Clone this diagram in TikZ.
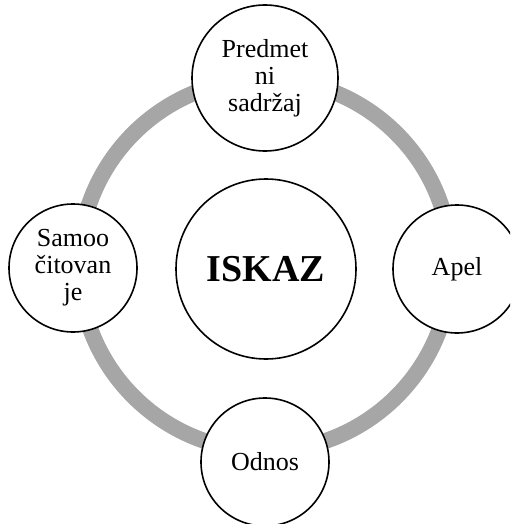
\documentclass[tikz,border=0pt]{standalone}
\usepackage{fontspec}
\setmainfont{Liberation Serif}
\definecolor{ringgray}{HTML}{A6A6A6}
\tikzset{
  part/.style={circle,draw,line width=0.8pt,fill=white,inner sep=0pt,
    minimum size=64pt,align=center,font=\fontsize{13}{13.5}\selectfont},
  ring/.style={draw=ringgray,line width=8pt},
}
\begin{document}
\begin{tikzpicture}[x=0.5pt,y=-0.5pt]
  \clip (0,0) rectangle (510,524);
  \coordinate (c) at (265,265);
  \path[ring] (c) circle[radius=186];
  \node[part,minimum size=90pt,font=\fontsize{19}{20}\selectfont\bfseries] (iskaz) at (266,269) {ISKAZ};
  \node[part,minimum size=73pt] (predmet) at (265,78) {Predmet\\ni\\sadržaj};
  \node[part] (apel) at (457,269) {Apel};
  \node[part] (odnos) at (265,462) {Odnos};
  \node[part] (samo) at (73,268) {Samoo\\čitovan\\je};
\end{tikzpicture}
\end{document}
